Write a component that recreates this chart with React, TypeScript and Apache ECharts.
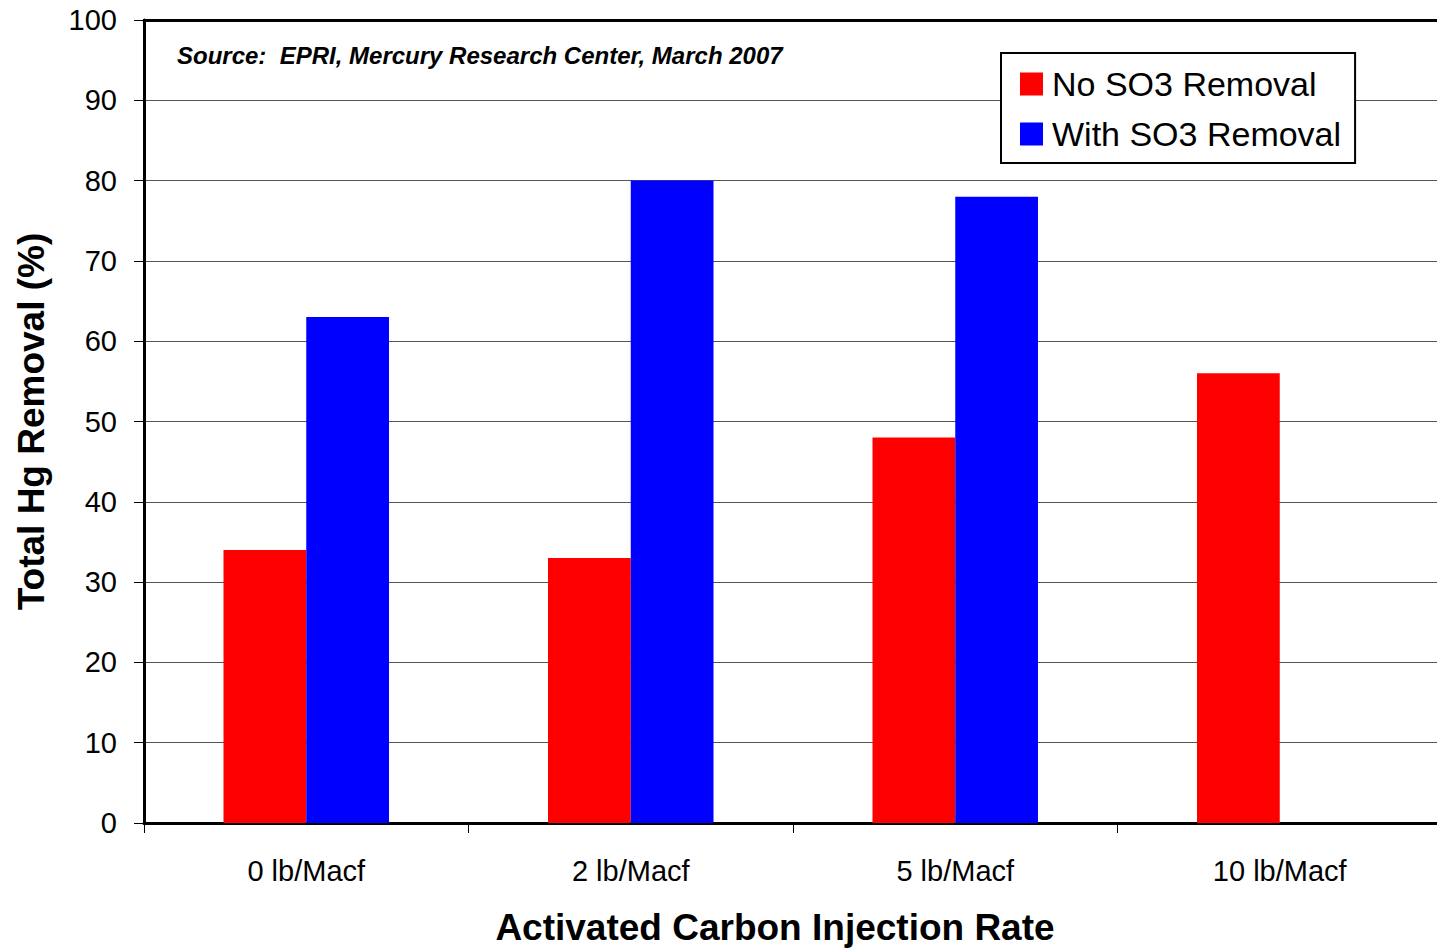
import React, { useEffect, useRef } from "react";
import * as echarts from "echarts";

const categories = ["0 lb/Macf", "2 lb/Macf", "5 lb/Macf", "10 lb/Macf"];
const noSO3Removal: (number | null)[] = [34, 33, 48, 56];
const withSO3Removal: (number | null)[] = [63, 80, 78, null];
const seriesNames = ["No SO3 Removal", "With SO3 Removal"];
const sourceNote = "Source:  EPRI, Mercury Research Center, March 2007";
const xTitle = "Activated Carbon Injection Rate";
const yTitle = "Total Hg Removal (%)";

const FONT = "Arial, 'Liberation Sans', sans-serif";

export default function App() {
  const ref = useRef<HTMLDivElement>(null);
  useEffect(() => {
    if (!ref.current) return;
    const chart = echarts.init(ref.current, null, { renderer: "svg" });
    chart.setOption({
      animation: false,
      backgroundColor: "#fff",
      textStyle: { fontFamily: FONT, color: "#000" },
      grid: { left: 144, top: 20, right: -5, bottom: 126, containLabel: false, outerBoundsMode: "none" },
      legend: {
        orient: "vertical",
        left: 1001,
        top: 53,
        padding: [14, 14, 12, 19],
        itemWidth: 23,
        itemHeight: 23,
        itemGap: 16,
        borderColor: "#000",
        borderWidth: 2,
        backgroundColor: "#fff",
        icon: "rect",
        textStyle: { fontSize: 34, color: "#000", fontFamily: FONT, lineHeight: 32, padding: [0, 0, 0, 4] },
        data: seriesNames,
      },
      xAxis: [
        {
          type: "category",
          data: categories,
          position: "bottom",
          axisLine: { lineStyle: { color: "#000", width: 3 } },
          axisTick: { show: true, length: 10, lineStyle: { color: "#000", width: 1 } },
          axisLabel: { fontSize: 29, color: "#000", margin: 33, fontFamily: FONT },
          name: xTitle,
          nameLocation: "middle",
          nameGap: 86,
          nameTextStyle: { fontSize: 37, fontWeight: "bold", color: "#000", fontFamily: FONT, padding: [0, 36, 0, 0] },
        },
        {
          type: "category",
          data: categories,
          position: "top",
          axisLine: { lineStyle: { color: "#000", width: 3 } },
          axisTick: { show: false },
          axisLabel: { show: false },
        },
      ],
      yAxis: {
        type: "value",
        min: 0,
        max: 100,
        interval: 10,
        axisLine: { show: true, lineStyle: { color: "#000", width: 3 } },
        axisTick: { show: true, length: 10, lineStyle: { color: "#000", width: 1 } },
        axisLabel: { fontSize: 29, color: "#000", margin: 27, fontFamily: FONT },
        splitLine: { show: true, lineStyle: { color: "#555", width: 1 } },
        name: yTitle,
        nameLocation: "middle",
        nameGap: 94,
        nameRotate: 90,
        nameTextStyle: { fontSize: 37, fontWeight: "bold", color: "#000", fontFamily: FONT },
      },
      graphic: [
        {
          type: "text",
          left: 177,
          top: 43,
          style: {
            text: sourceNote,
            font: `italic bold 24px ${FONT}`,
            fill: "#000",
          },
        },
      ],
      series: [
        {
          name: seriesNames[0],
          type: "bar",
          data: noSO3Removal,
          itemStyle: { color: "#ff0000" },
          barGap: "0%",
          barCategoryGap: "49%",
        },
        {
          name: seriesNames[1],
          type: "bar",
          data: withSO3Removal,
          itemStyle: { color: "#0000ff" },
          barGap: "0%",
          barCategoryGap: "49%",
        },
      ],
    });
    return () => chart.dispose();
  }, []);
  return (
    <div
      ref={ref}
      style={{ position: "absolute", left: 0, top: 0, width: 1437, height: 949 }}
    />
  );
}
